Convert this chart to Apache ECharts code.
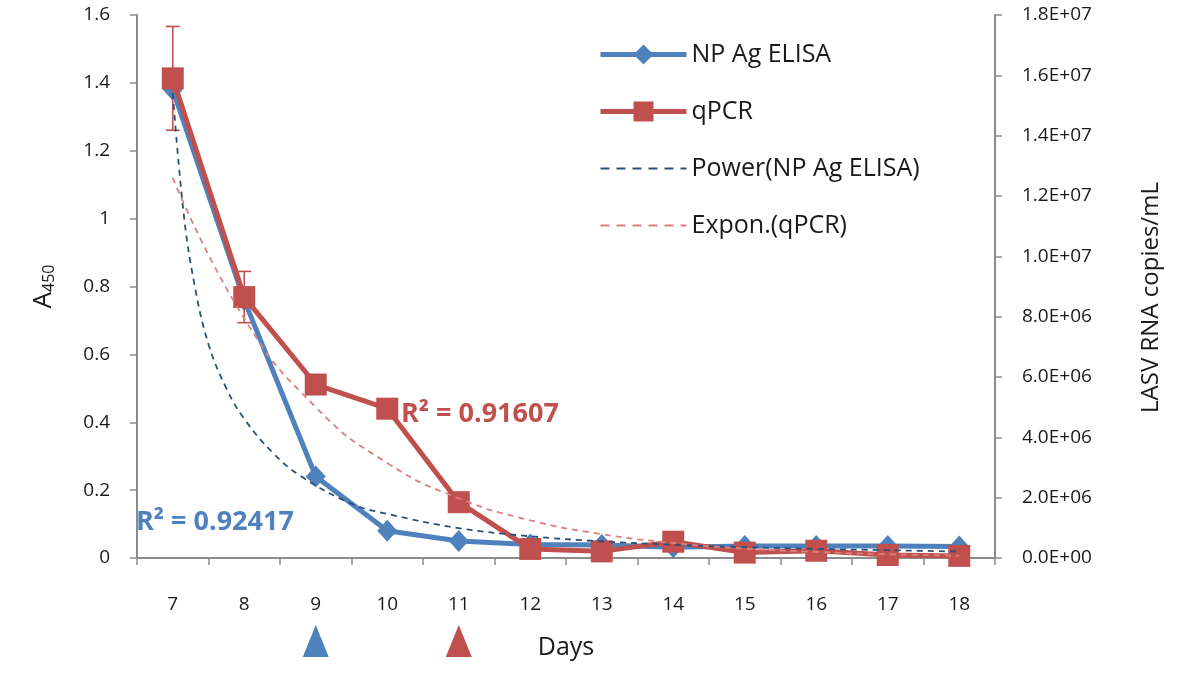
<!DOCTYPE html>
<html>
<head>
<meta charset="utf-8">
<script src="https://cdn.jsdelivr.net/npm/echarts@6/dist/echarts.min.js"></script>
<style>html,body{margin:0;padding:0;background:#fff;}#chart{width:1200px;height:683px;}</style>
</head>
<body>
<div id="chart"></div>
<script>
// ---- data ----
var days = ['7','8','9','10','11','12','13','14','15','16','17','18'];
var elisa = [1.38, 0.76, 0.24, 0.08, 0.05, 0.04, 0.038, 0.032, 0.035, 0.035, 0.035, 0.034];
var qpcr = [15.9e6, 8.65e6, 5.75e6, 4.95e6, 1.85e6, 0.3e6, 0.22e6, 0.54e6, 0.18e6, 0.24e6, 0.1e6, 0.07e6];
var qpcrErr = [1.72e6, 0.85e6, 0, 0, 0, 0, 0, 0, 0, 0, 0, 0];
var powerDays = [7, 7.15, 7.3, 7.5, 7.75, 8, 8.4, 8.8, 9.5, 10, 11, 12, 13, 14, 15, 16, 17, 18];
var powerVals = [1.37, 1.02, 0.81, 0.63, 0.50, 0.41, 0.31, 0.24, 0.16, 0.13, 0.088, 0.064, 0.049, 0.039, 0.032, 0.027, 0.023, 0.019];
var exponDays = [7, 8, 9, 10, 11, 12, 13, 14, 15, 16, 17, 18];
var exponVals = [12.6e6, 7.94e6, 5.0e6, 3.15e6, 1.98e6, 1.25e6, 0.79e6, 0.50e6, 0.31e6, 0.20e6, 0.124e6, 0.078e6];
var markerDays = ['9', '11'];
var r2Elisa = 'R² = 0.92417';
var r2Qpcr = 'R² = 0.91607';
var leftTicks = {min: 0, max: 1.6, interval: 0.2};
var rightTicks = {min: 0, max: 1.8e7, interval: 2e6};

// ---- styles ----
var FONT = '"Open Sans"';
var BLUE = '#4F81BD', RED = '#C0504D', NAVY = '#2B4F7E', PINK = '#D9817D';
var AXIS = '#8C8C8C', TXT = '#1a1a1a';

function sci(v) {
  if (v === 0) return '0.0E+00';
  var e = Math.floor(Math.log10(v) + 1e-9);
  var m = v / Math.pow(10, e);
  return m.toFixed(1) + 'E+' + (e < 10 ? '0' : '') + e;
}

var chart = echarts.init(document.getElementById('chart'));
var axisCommon = {
  axisLine: {show: true, lineStyle: {color: AXIS, width: 2}},
  axisTick: {show: true, length: 7, lineStyle: {color: AXIS, width: 1.5}},
  splitLine: {show: false}
};
chart.setOption({
  backgroundColor: '#fff',
  animation: false,
  textStyle: {fontFamily: FONT},
  grid: {left: 137, right: 205, top: 15, bottom: 125, containLabel: false},
  legend: {
    orient: 'vertical', left: 593, top: 37, itemWidth: 86, itemHeight: 25, itemGap: 32,
    textStyle: {fontSize: 25, color: TXT, fontFamily: FONT},
    data: [
      {name: 'NP Ag ELISA', lineStyle: {width: 5, color: BLUE}},
      {name: 'qPCR', lineStyle: {width: 5, color: RED}},
      {name: 'Power(NP Ag ELISA)', itemStyle: {opacity: 0}, lineStyle: {width: 2, color: NAVY, type: [9, 7]}},
      {name: 'Expon.(qPCR)', itemStyle: {opacity: 0}, lineStyle: {width: 2, color: PINK, type: [9, 7]}}
    ]
  },
  xAxis: [
    Object.assign({
      type: 'category', data: days, boundaryGap: true,
      axisLabel: {fontSize: 19, color: TXT, margin: 37, fontFamily: FONT},
      name: 'Days', nameLocation: 'middle', nameGap: 77,
      nameTextStyle: {fontSize: 25, color: TXT, fontFamily: FONT}
    }, axisCommon),
    {type: 'value', min: 6.5, max: 18.5, show: false}
  ],
  yAxis: [
    Object.assign({
      type: 'value', position: 'left', min: leftTicks.min, max: leftTicks.max, interval: leftTicks.interval,
      axisLabel: {fontSize: 19, color: TXT, margin: 27, fontFamily: FONT},
      name: 'A{sub|450}', nameLocation: 'middle', nameGap: 80,
      nameTextStyle: {fontSize: 26, color: TXT, fontFamily: FONT,
        rich: {sub: {fontSize: 16, color: TXT, fontFamily: FONT, verticalAlign: 'bottom'}}}
    }, axisCommon),
    Object.assign({
      type: 'value', position: 'right', min: rightTicks.min, max: rightTicks.max, interval: rightTicks.interval,
      axisLabel: {fontSize: 19, color: TXT, margin: 27, fontFamily: FONT, formatter: sci},
      name: 'LASV RNA copies/mL', nameLocation: 'middle', nameGap: 144,
      nameTextStyle: {fontSize: 24, color: TXT, fontFamily: FONT, padding: [0, 22, 0, 0]}
    }, axisCommon)
  ],
  graphic: [
    {type: 'text', left: 136, top: 509, z: 50,
      style: {text: r2Elisa, fill: BLUE, font: 'bold 27px ' + FONT}},
    {type: 'text', left: 401, top: 401, z: 50,
      style: {text: r2Qpcr, fill: RED, font: 'bold 27px ' + FONT}}
  ],
  series: [
    {
      name: 'NP Ag ELISA', type: 'line', xAxisIndex: 0, yAxisIndex: 0, data: elisa,
      symbol: 'diamond', symbolSize: [20, 22], showAllSymbol: true,
      lineStyle: {color: BLUE, width: 5}, itemStyle: {color: BLUE}, z: 3
    },
    {
      name: 'qPCR', type: 'line', xAxisIndex: 0, yAxisIndex: 1, data: qpcr,
      symbol: 'rect', symbolSize: 22, showAllSymbol: true,
      lineStyle: {color: RED, width: 5}, itemStyle: {color: RED}, z: 4
    },
    {
      name: 'qPCR err', type: 'custom', xAxisIndex: 0, yAxisIndex: 1, z: 5,
      data: days.map(function (d, i) { return [i, qpcr[i] - qpcrErr[i], qpcr[i] + qpcrErr[i]]; }),
      renderItem: function (params, api) {
        var lo = api.value(1), hi = api.value(2);
        if (hi - lo <= 0) return null;
        var a = api.coord([api.value(0), hi]);
        var b = api.coord([api.value(0), lo]);
        var w = 7;
        var st = {stroke: RED, lineWidth: 1.6};
        return {type: 'group', children: [
          {type: 'line', shape: {x1: a[0], y1: a[1], x2: b[0], y2: b[1]}, style: st},
          {type: 'line', shape: {x1: a[0] - w, y1: a[1], x2: a[0] + w, y2: a[1]}, style: st},
          {type: 'line', shape: {x1: b[0] - w, y1: b[1], x2: b[0] + w, y2: b[1]}, style: st}
        ]};
      }
    },
    {
      name: 'Power(NP Ag ELISA)', type: 'line', xAxisIndex: 1, yAxisIndex: 0,
      data: powerDays.map(function (d, i) { return [d, powerVals[i]]; }),
      smooth: 0.4, symbol: 'none', showSymbol: false,
      lineStyle: {color: NAVY, width: 1.8, type: [6, 5]}, itemStyle: {color: NAVY}, z: 6
    },
    {
      name: 'Expon.(qPCR)', type: 'line', xAxisIndex: 1, yAxisIndex: 1,
      data: exponDays.map(function (d, i) { return [d, exponVals[i]]; }),
      smooth: true, symbol: 'none', showSymbol: false,
      lineStyle: {color: PINK, width: 1.8, type: [6, 5]}, itemStyle: {color: PINK}, z: 6
    },
    {
      name: 'markers', type: 'custom', xAxisIndex: 0, yAxisIndex: 0, z: 10,
      data: markerDays.map(function (d) { return [d, 0]; }),
      encode: {x: 0, y: 1},
      renderItem: function (params, api) {
        var p = api.coord([api.value(0), 0]);
        var c = params.dataIndex === 0 ? BLUE : RED;
        return {type: 'polygon', shape: {points: [[p[0], p[1] + 67], [p[0] + 13, p[1] + 99], [p[0] - 13, p[1] + 99]]},
          style: {fill: c}};
      }
    }
  ]
});
</script>
</body>
</html>
